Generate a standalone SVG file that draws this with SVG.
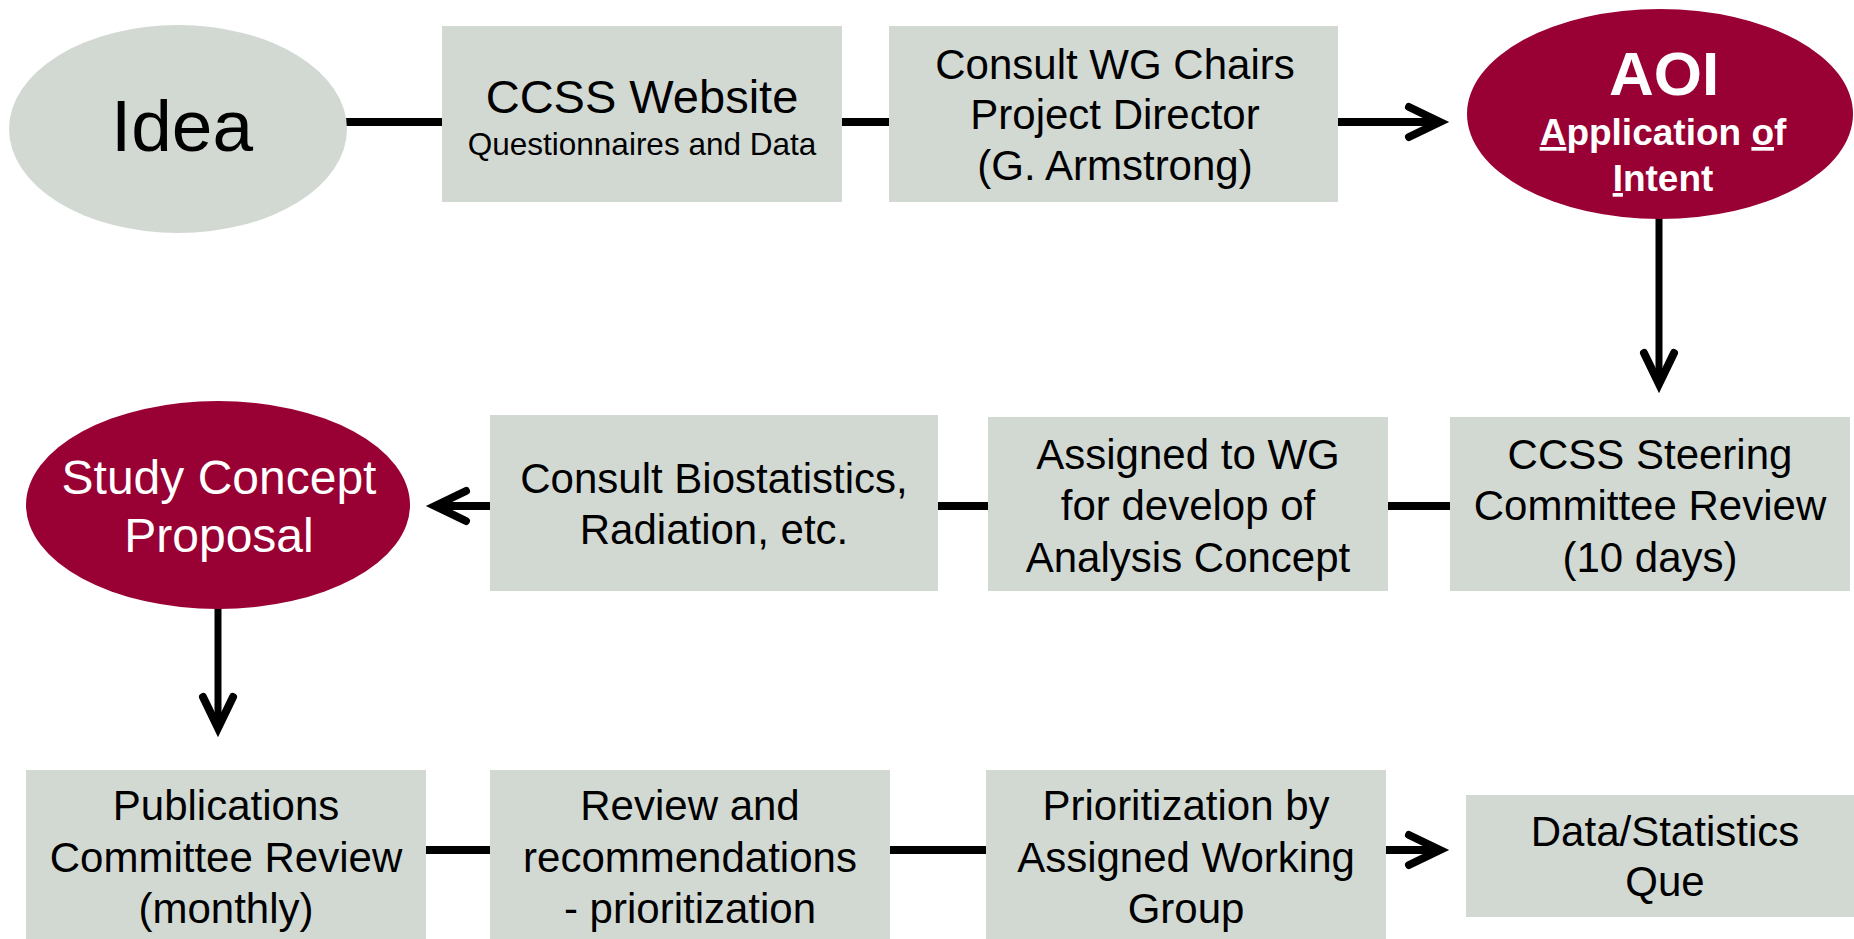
<svg xmlns="http://www.w3.org/2000/svg" width="1854" height="939" viewBox="0 0 1854 939">
<style>
.box{fill:#D2D9D3;}
.red{fill:#990033;}
.t{font-family:"Liberation Sans",Arial,sans-serif;font-size:42px;fill:#000;text-anchor:middle;}
.w{font-family:"Liberation Sans",Arial,sans-serif;fill:#fff;text-anchor:middle;}
.ln{stroke:#000;stroke-width:8;fill:none;}
.lv{stroke:#000;stroke-width:7;fill:none;}
</style>
<defs>
<marker id="chev" markerUnits="userSpaceOnUse" viewBox="-45 -25 55 50" refX="0" refY="0" markerWidth="55" markerHeight="50" orient="auto" overflow="visible">
<path d="M -31 -15 L 0 0 L -31 15" fill="none" stroke="#000" stroke-width="8" stroke-linecap="round" stroke-linejoin="miter"/>
</marker>
</defs>
<rect width="1854" height="939" fill="#fff"/>
<g id="connectors">
<line class="ln" x1="345" y1="122" x2="443" y2="122"/>
<line class="ln" x1="841" y1="122" x2="890" y2="122"/>
<line class="ln" x1="1338" y1="122" x2="1440" y2="122" marker-end="url(#chev)"/>
<line class="lv" x1="1659" y1="217" x2="1659" y2="384" marker-end="url(#chev)"/>
<line class="ln" x1="1451" y1="506" x2="1387" y2="506"/>
<line class="ln" x1="989" y1="506" x2="937" y2="506"/>
<line class="ln" x1="491" y1="506" x2="435" y2="506" marker-end="url(#chev)"/>
<line class="lv" x1="218" y1="607" x2="218" y2="728" marker-end="url(#chev)"/>
<line class="ln" x1="425" y1="850" x2="491" y2="850"/>
<line class="ln" x1="888" y1="850" x2="987" y2="850"/>
<line class="ln" x1="1385" y1="850" x2="1440" y2="850" marker-end="url(#chev)"/>
</g>
<g id="idea">
<ellipse class="box" cx="178" cy="129" rx="169" ry="104"/>
<text class="t" x="182" y="151" style="font-size:73px">Idea</text>
</g>
<g id="ccss-website">
<rect class="box" x="442" y="26" width="400" height="176"/>
<text class="t" x="642" y="113" style="font-size:47px">CCSS Website</text>
<text class="t" x="642" y="155" style="font-size:31.5px">Questionnaires and Data</text>
</g>
<g id="consult-wg">
<rect class="box" x="889" y="26" width="449" height="176"/>
<text class="t" x="1115" y="79">Consult WG Chairs</text>
<text class="t" x="1115" y="129">Project Director</text>
<text class="t" x="1115" y="180">(G. Armstrong)</text>
</g>
<g id="aoi">
<ellipse class="red" cx="1660" cy="114" rx="193" ry="105"/>
<text class="w" x="1664" y="95" style="font-size:62px;font-weight:bold">AOI</text>
<text class="w" x="1663" y="145" style="font-size:37px;font-weight:bold"><tspan text-decoration="underline">A</tspan>pplication <tspan text-decoration="underline">o</tspan>f</text>
<text class="w" x="1663" y="191" style="font-size:37px;font-weight:bold"><tspan text-decoration="underline">I</tspan>ntent</text>
</g>
<g id="steering">
<rect class="box" x="1450" y="417" width="400" height="174"/>
<text class="t" x="1650" y="469">CCSS Steering</text>
<text class="t" x="1650" y="520">Committee Review</text>
<text class="t" x="1650" y="572">(10 days)</text>
</g>
<g id="assigned">
<rect class="box" x="988" y="417" width="400" height="174"/>
<text class="t" x="1188" y="469">Assigned to WG</text>
<text class="t" x="1188" y="520">for develop of</text>
<text class="t" x="1188" y="572">Analysis Concept</text>
</g>
<g id="biostat">
<rect class="box" x="490" y="415" width="448" height="176"/>
<text class="t" x="714" y="493">Consult Biostatistics,</text>
<text class="t" x="714" y="544">Radiation, etc.</text>
</g>
<g id="study-concept">
<ellipse class="red" cx="218" cy="505" rx="192" ry="104"/>
<text class="w" x="219" y="494" style="font-size:48px">Study Concept</text>
<text class="w" x="219" y="552" style="font-size:48px">Proposal</text>
</g>
<g id="publications">
<rect class="box" x="26" y="770" width="400" height="175"/>
<text class="t" x="226" y="820">Publications</text>
<text class="t" x="226" y="872">Committee Review</text>
<text class="t" x="226" y="923">(monthly)</text>
</g>
<g id="review">
<rect class="box" x="490" y="770" width="400" height="175"/>
<text class="t" x="690" y="820">Review and</text>
<text class="t" x="690" y="872">recommendations</text>
<text class="t" x="690" y="923">- prioritization</text>
</g>
<g id="prioritization">
<rect class="box" x="986" y="770" width="400" height="175"/>
<text class="t" x="1186" y="820">Prioritization by</text>
<text class="t" x="1186" y="872">Assigned Working</text>
<text class="t" x="1186" y="923">Group</text>
</g>
<g id="data-que">
<rect class="box" x="1466" y="795" width="390" height="122"/>
<text class="t" x="1665" y="846">Data/Statistics</text>
<text class="t" x="1665" y="896">Que</text>
</g>
</svg>
